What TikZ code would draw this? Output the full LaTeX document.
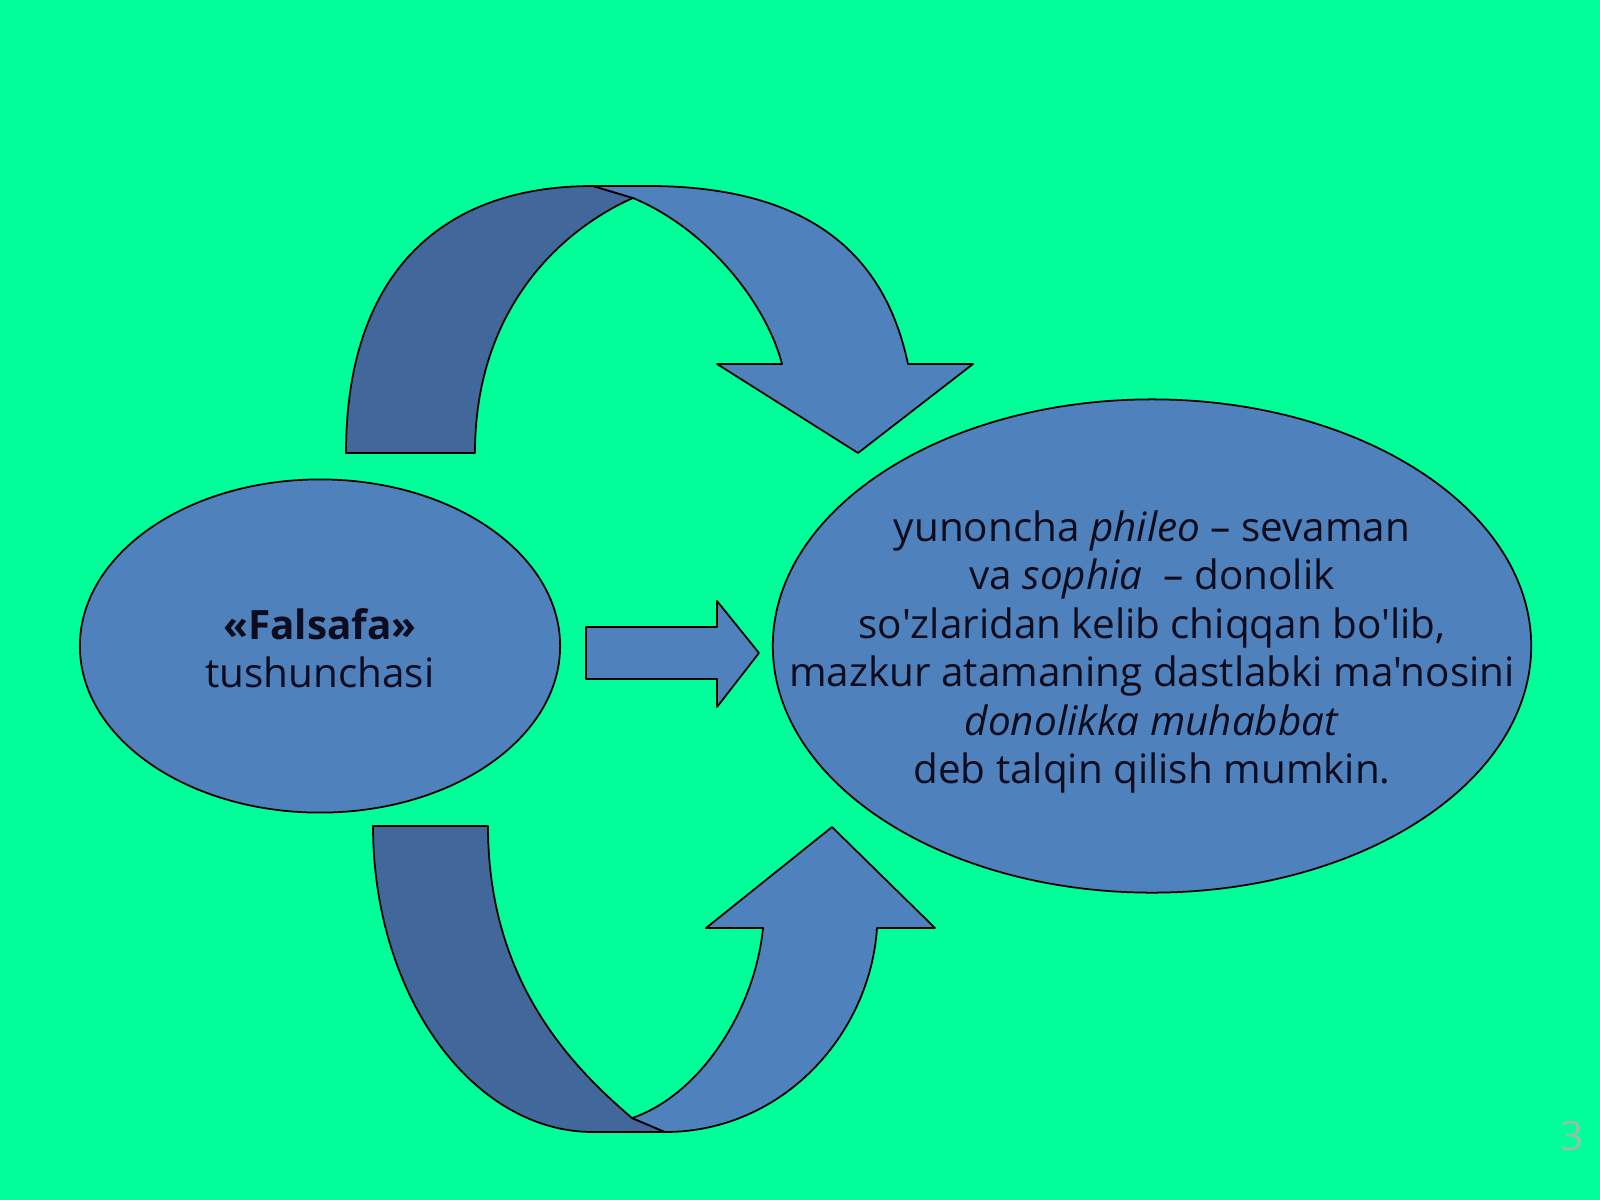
\documentclass[tikz,border=0pt]{standalone}
\usepackage{fontspec}
\setmainfont{Open Sans}[Ligatures=TeXOff]
\usetikzlibrary{shapes.geometric}
\definecolor{bg}{RGB}{0,255,153}
\definecolor{bluelight}{RGB}{79,129,189}
\definecolor{bluedark}{RGB}{66,103,154}
\definecolor{txt}{RGB}{12,12,30}
\definecolor{pagenum}{RGB}{155,190,172}
\tikzset{
  lightpart/.style={fill=bluelight, draw=black, line width=0.5pt, line join=round},
  darkpart/.style={fill=bluedark, draw=black, line width=0.5pt, line join=round},
  oval/.style={ellipse, fill=bluelight, draw=black, line width=0.5pt, inner sep=0pt},
  label/.style={text=txt, align=center, font=\fontsize{11.5}{13.8}\selectfont},
}
\begin{document}
\begin{tikzpicture}[x=0.01cm,y=-0.01cm]
\fill[bg] (0,0) rectangle (1600,1200);
\useasboundingbox (0,0) rectangle (1600,1200);

% ellipses
\node[oval, minimum width=4.8cm, minimum height=3.33cm] (left) at (320,646) {};
\node[oval, minimum width=7.58cm, minimum height=4.93cm] (right) at (1152,646) {};

% top curved arrow
\filldraw[darkpart] (346,453) .. controls (346,280) and (435,186) .. (593,186)
  -- (633,198) .. controls (565,228) and (475,305) .. (475,453) -- cycle;
\filldraw[lightpart] (593,186) -- (640,186) .. controls (810,184) and (885,255) .. (908,364)
  -- (973,364) -- (858,453) -- (717,364) -- (782,364)
  .. controls (765,300) and (705,228) .. (633,198) -- cycle;

% bottom curved arrow
\filldraw[darkpart] (373,826) .. controls (373,995) and (472,1132) .. (593,1132)
  -- (665,1132) -- (632,1118) .. controls (570,1065) and (488,980) .. (488,826) -- cycle;
\filldraw[lightpart] (665,1132) .. controls (782,1132) and (870,1035) .. (877,928)
  -- (935,928) -- (832,827) -- (706,928) -- (763,928)
  .. controls (755,1010) and (700,1095) .. (632,1118) -- cycle;

% middle straight arrow
\filldraw[lightpart] (586,627) -- (717,627) -- (717,601) -- (759,653) -- (717,707) -- (717,679) -- (586,679) -- cycle;

% texts
\node[label] (lefttext) at (320,648) {\textbf{«Falsafa»}\\tushunchasi};
\node[label] (righttext) at (1152,652) {yunoncha \textit{phileo} – sevaman\\va \textit{sophia}\ \ – donolik\\so'zlaridan kelib chiqqan bo'lib,\\mazkur atamaning dastlabki ma'nosini\\\textit{donolikka muhabbat}\\deb talqin qilish mumkin.};
\node[text=pagenum, font=\fontsize{11.5}{14}\selectfont] (pnum) at (1572,1136) {3};
\end{tikzpicture}
\end{document}
